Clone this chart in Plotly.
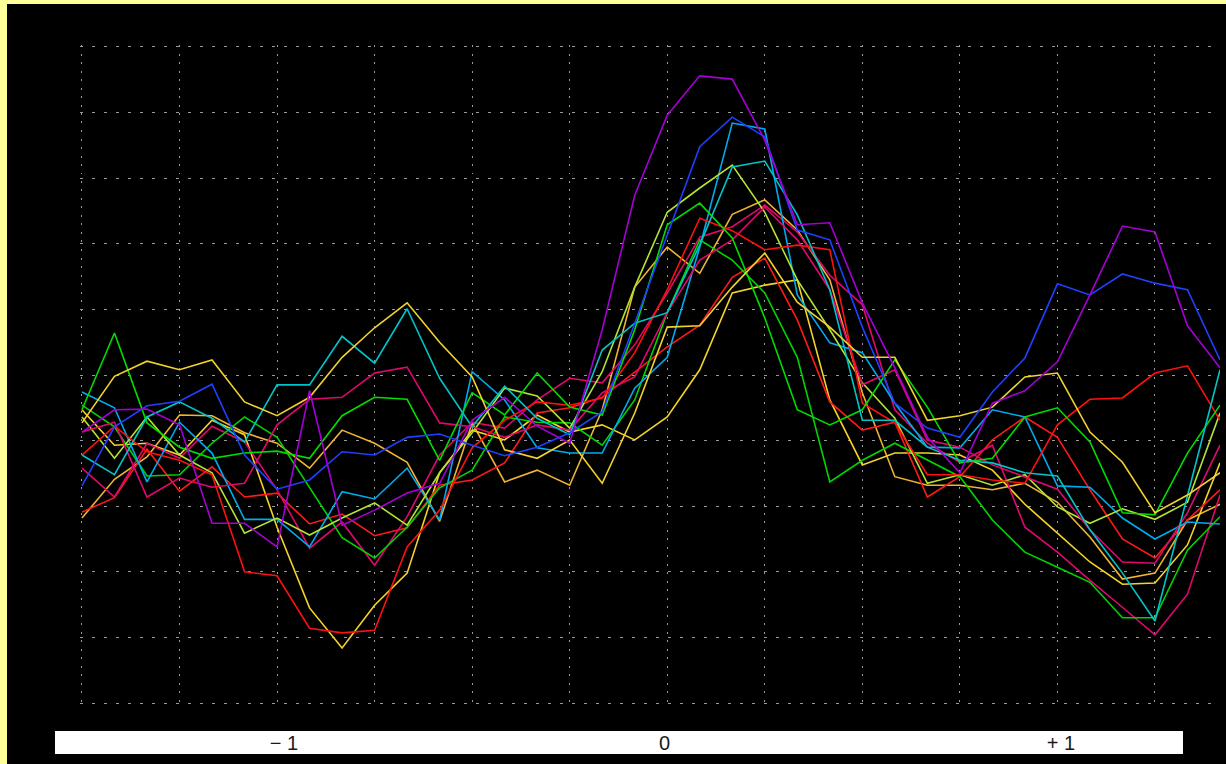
import plotly.graph_objects as go

# Sample index along the horizontal axis (36 samples)
samples = list(range(36))

# Series values (grid units, 0..10)
purple = [4.13, 4.47, 4.48, 4.24, 2.74, 2.74, 2.38, 4.76, 2.71, 2.94, 3.20, 3.35, 4.31, 4.66, 4.22, 3.96, 5.69, 7.74,
          8.96, 9.56, 9.51, 8.58, 7.29, 7.32, 6.10, 5.11, 4.05, 3.51, 4.57, 4.76, 5.20, 6.22, 7.27, 7.18, 5.75, 5.11]
blue = [3.31, 4.21, 4.53, 4.60, 4.86, 3.78, 3.26, 3.40, 3.83, 3.78, 4.05, 4.10, 3.93, 3.77, 3.90, 4.12, 4.44, 5.79,
        7.13, 8.48, 8.93, 8.63, 7.21, 7.06, 5.73, 4.57, 4.19, 4.05, 4.74, 5.26, 6.39, 6.22, 6.54, 6.40, 6.30, 5.23]
light_blue = [4.74, 4.50, 3.37, 4.28, 3.81, 2.80, 2.80, 2.38, 3.22, 3.11, 3.58, 2.79, 5.05, 4.62, 3.89, 3.81, 3.81, 4.80,
              5.27, 6.95, 8.84, 8.75, 6.22, 5.49, 5.34, 4.57, 3.90, 3.89, 4.47, 4.36, 3.31, 3.29, 2.82, 2.50, 2.76, 2.73]
cyan = [3.78, 3.48, 4.36, 4.59, 4.34, 3.98, 4.85, 4.85, 5.59, 5.18, 6.01, 4.95, 4.21, 4.83, 4.34, 4.09, 5.38, 5.79,
        5.95, 6.98, 8.17, 8.26, 7.44, 6.30, 4.31, 4.31, 3.90, 3.70, 3.66, 3.51, 3.46, 2.64, 1.98, 1.25, 3.16, 5.08]
green_a = [4.47, 5.64, 4.27, 3.90, 3.73, 3.81, 3.84, 3.73, 4.38, 4.66, 4.63, 3.70, 4.73, 4.39, 5.03, 4.51, 4.39, 5.69,
           7.29, 7.62, 7.09, 5.87, 4.47, 4.24, 4.47, 5.23, 4.51, 3.66, 3.73, 4.36, 4.50, 3.98, 2.90, 2.87, 3.81, 4.54]
green_b = [4.54, 4.21, 3.46, 3.48, 3.96, 4.36, 4.05, 3.28, 2.52, 2.21, 2.68, 3.28, 3.55, 4.36, 4.28, 4.27, 3.93, 4.62,
           5.95, 7.06, 6.75, 6.25, 5.27, 3.37, 3.70, 3.96, 3.70, 3.45, 2.79, 2.30, 2.07, 1.84, 1.30, 1.30, 2.33, 2.84]
yellow_green = [4.36, 3.73, 4.36, 3.78, 3.51, 2.59, 2.82, 2.56, 2.82, 3.05, 2.71, 3.51, 4.12, 4.80, 4.68, 4.19, 5.05, 6.34,
                7.48, 7.85, 8.20, 7.48, 6.45, 5.69, 4.88, 4.34, 3.35, 3.48, 3.32, 3.48, 2.99, 2.74, 2.96, 2.80, 3.06, 4.42]
yellow_a = [4.27, 4.98, 5.21, 5.08, 5.23, 4.59, 4.38, 4.66, 5.27, 5.72, 6.10, 5.50, 4.97, 3.86, 3.73, 4.01, 3.35, 4.42,
            5.73, 5.75, 6.34, 6.86, 6.11, 5.73, 5.27, 5.27, 4.31, 4.38, 4.51, 4.97, 5.03, 4.13, 3.67, 2.90, 3.17, 3.51]
yellow_b = [4.47, 3.93, 3.96, 3.78, 4.31, 4.09, 2.68, 1.45, 0.84, 1.49, 1.98, 3.51, 4.16, 4.01, 4.39, 4.13, 4.24, 4.01,
            4.36, 5.08, 6.25, 6.37, 6.45, 4.62, 3.63, 3.81, 3.81, 3.78, 3.55, 3.03, 2.59, 2.15, 1.81, 1.83, 2.41, 3.66]
orange = [2.82, 3.41, 3.75, 4.39, 4.38, 4.12, 3.96, 3.58, 4.16, 3.96, 3.67, 2.77, 4.27, 3.37, 3.55, 3.32, 4.47, 6.34,
          6.95, 6.55, 7.45, 7.67, 7.21, 6.45, 4.73, 3.45, 3.32, 3.32, 3.25, 3.35, 3.06, 2.53, 1.89, 1.98, 2.79, 3.03]
red_a = [3.78, 4.22, 3.83, 3.70, 3.48, 2.00, 1.94, 1.14, 1.07, 1.11, 2.38, 2.94, 3.89, 4.31, 4.59, 4.54, 4.65, 5.34,
         6.30, 7.39, 7.20, 6.91, 6.98, 6.91, 4.57, 4.27, 3.48, 3.48, 3.40, 3.35, 4.24, 4.63, 4.65, 5.03, 5.14, 4.31]
red_b = [2.91, 3.13, 3.87, 3.23, 3.60, 3.14, 3.20, 2.73, 2.88, 2.55, 2.67, 3.32, 3.40, 3.66, 4.42, 4.50, 4.66, 5.05,
         5.43, 5.76, 6.49, 6.78, 5.84, 4.59, 4.16, 4.28, 3.14, 3.45, 4.01, 4.36, 4.05, 3.25, 2.50, 2.21, 2.79, 3.25]
crimson_a = [3.58, 3.14, 3.96, 3.73, 4.22, 3.98, 3.25, 2.36, 2.76, 2.10, 2.84, 3.78, 4.28, 4.19, 4.62, 4.95, 4.88, 5.46,
             6.25, 7.10, 7.26, 7.59, 7.18, 6.52, 6.07, 4.47, 3.96, 3.67, 3.93, 2.68, 2.30, 1.87, 1.46, 1.04, 1.66, 3.17]
crimson_b = [4.13, 4.28, 3.14, 3.43, 3.29, 3.35, 4.24, 4.63, 4.66, 5.03, 5.12, 4.27, 4.21, 4.05, 4.24, 4.16, 4.73, 4.97,
             5.95, 6.75, 7.06, 7.56, 7.06, 6.30, 4.85, 5.08, 4.01, 3.90, 3.63, 3.45, 3.26, 2.64, 2.15, 2.13, 2.90, 3.93]

# Axis tick labels
tick_positions = [6.21, 17.92, 30.11]
tick_labels = ["\u2212 1", "0", "+ 1"]

series = [
    (orange, "#f0b432"),
    (yellow_b, "#f5d327"),
    (red_b, "#ff1a1a"),
    (crimson_a, "#e0086e"),
    (green_b, "#00d400"),
    (light_blue, "#00aaee"),
    (yellow_green, "#b4e333"),
    (crimson_b, "#e0086e"),
    (red_a, "#ff1010"),
    (green_a, "#00dd00"),
    (cyan, "#00c4c8"),
    (yellow_a, "#f2d22c"),
    (blue, "#2040ff"),
    (purple, "#a400d4"),
]

fig = go.Figure()
for values, color in series:
    fig.add_trace(go.Scatter(
        x=samples, y=values, mode="lines",
        line=dict(color=color, width=1.6),
        hoverinfo="skip", showlegend=False,
    ))

# plot area: x 80..1220 px, y 45..705 px (ranges padded so edge grid lines are kept)
fig.update_layout(
    width=1226, height=764,
    margin=dict(l=80, r=6, t=45, b=59),
    paper_bgcolor="#ffff99",
    plot_bgcolor="#000000",
    showlegend=False,
    shapes=[
        # black canvas leaving a thin yellow frame on the left and top
        dict(type="rect", xref="paper", yref="paper", layer="below",
             x0=(7 - 80) / 1140, x1=1.02, y0=-0.12, y1=(705 - 4) / 660,
             fillcolor="#000000", line=dict(width=0)),
        # white label strip under the plot
        dict(type="rect", xref="paper", yref="paper", layer="below",
             x0=(55 - 80) / 1140, x1=(1183 - 80) / 1140,
             y0=(705 - 754) / 660, y1=(705 - 731) / 660,
             fillcolor="#ffffff", line=dict(width=0)),
    ],
)

fig.update_xaxes(
    range=[-0.06, 35], showline=False, zeroline=False,
    tickmode="array", tickvals=tick_positions, ticktext=tick_labels,
    showgrid=False, ticks="outside", ticklen=20, tickcolor="rgba(0,0,0,0)",
    tickfont=dict(family="Liberation Sans, Arial, sans-serif", size=20, color="#1a1a1a"),
    minor=dict(tickmode="array", tickvals=list(range(0, 34, 3)), showgrid=True,
               gridcolor="#9a9a9a", gridwidth=1, griddash="2px,6.5px", ticks=""),
)
fig.update_yaxes(
    range=[-0.03, 10.03], showline=False, zeroline=False, showticklabels=False,
    tickmode="linear", tick0=0, dtick=1, ticks="",
    showgrid=True, gridcolor="#9a9a9a", gridwidth=1, griddash="3px,9px",
)

fig.write_html("out.html")
